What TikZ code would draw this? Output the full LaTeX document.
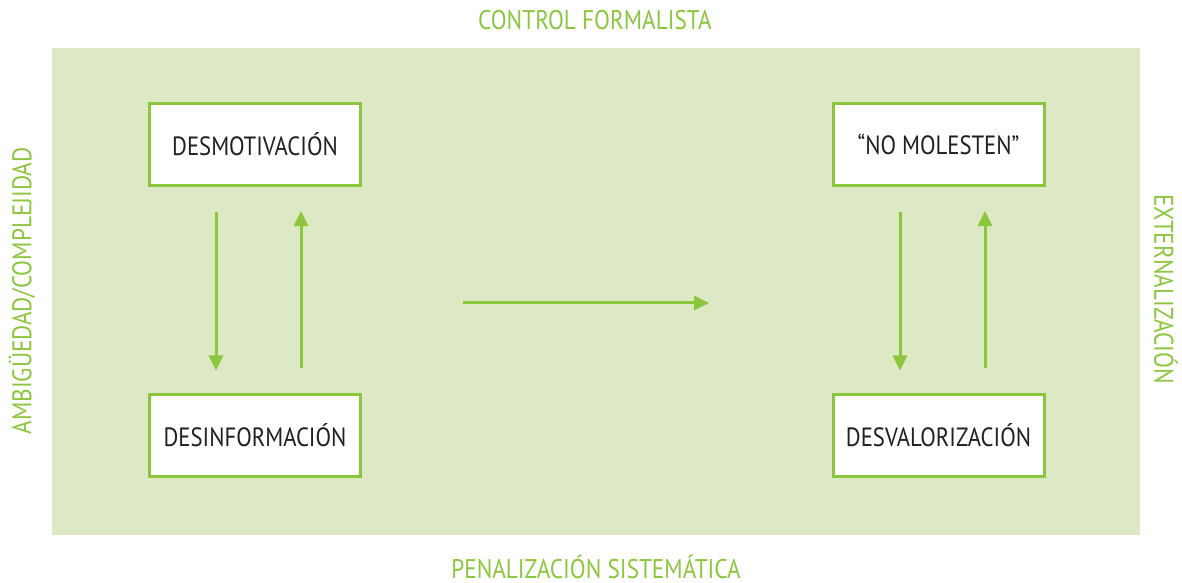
\documentclass[tikz,border=0pt]{standalone}
\usepackage{fontspec}
\setmainfont[FakeStretch=0.86]{PT Sans}
\usetikzlibrary{arrows.meta}
\definecolor{hoja}{HTML}{8CC63F}
\definecolor{fondo}{HTML}{DCE9C4}
\definecolor{tinta}{HTML}{231F20}

\begin{document}
\begin{tikzpicture}[x=1bp,y=-1bp,
  caja/.style={draw=hoja, line width=3bp, fill=white, minimum width=211bp, minimum height=82bp,
    inner sep=0pt, text=tinta, font=\fontsize{26.4bp}{30bp}\selectfont},
  eje/.style={text=hoja, font=\fontsize{27bp}{30bp}\selectfont, inner sep=0pt},
  flecha/.style={draw=hoja, line width=3bp, -{Triangle[length=15bp,width=14bp]}}]
\useasboundingbox (0,0) rectangle (1182,583);
\fill[fondo] (52,48) rectangle (1140,535);

\node[eje] (arriba) at (595,20) {CONTROL FORMALISTA};
\node[eje] (abajo) at (596,567) {PENALIZACIÓN SISTEMÁTICA};
\node[eje, rotate=90] (izq) at (22,291) {AMBIGÜEDAD/COMPLEJIDAD};
\node[eje, rotate=-90] (der) at (1166,289) {EXTERNALIZACIÓN};

\node[caja] (desmot) at (255,144.5) {DESMOTIVACIÓN};
\node[caja] (desinf) at (255,435) {DESINFORMACIÓN};
\node[caja] (nomol) at (938.5,144.5) {“NO MOLESTEN”};
\node[caja] (desval) at (938.5,435) {DESVALORIZACIÓN};

\draw[flecha] ([xshift=-39bp,yshift=-25bp]desmot.south) -- ([xshift=-39bp,yshift=22bp]desinf.north);
\draw[flecha] ([xshift=46bp,yshift=24bp]desinf.north) -- ([xshift=46bp,yshift=-24bp]desmot.south);
\draw[flecha] ([xshift=-38.5bp,yshift=-25bp]nomol.south) -- ([xshift=-38.5bp,yshift=22bp]desval.north);
\draw[flecha] ([xshift=46.5bp,yshift=24bp]desval.north) -- ([xshift=46.5bp,yshift=-24bp]nomol.south);

\coordinate (salida) at (463,303);
\coordinate (llegada) at (709,303);
\draw[flecha] (salida) -- (llegada);
\end{tikzpicture}
\end{document}
